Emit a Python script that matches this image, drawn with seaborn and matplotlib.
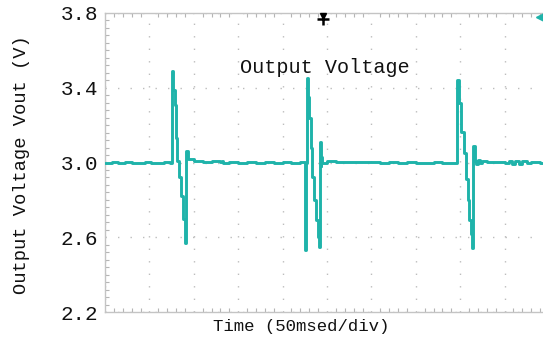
import matplotlib
matplotlib.use("Agg")
import matplotlib.pyplot as plt
import seaborn as sns
import pandas as pd
from matplotlib.ticker import AutoMinorLocator, MultipleLocator

# ---- data (time in ms, voltage in V) ----
time_ms = [
    0, 8, 15, 22, 30, 37, 45, 52, 60, 67, 73,
    75.8, 76.9, 78.5, 80.0, 81.4, 83.7, 85.2, 87.5, 89.7, 91.2, 93.8,
    100, 110, 120, 130, 131.7, 133, 140, 150, 160, 170, 180, 190, 200, 210, 220,
    225.2, 226.3, 227.8, 229.0, 230.1, 231.7, 233.4, 235.4, 238.0, 239.5, 240.7,
    241.8, 242.7, 243.6, 244.9,
    250, 260, 270, 280, 290, 300, 310, 320, 330, 340, 350, 360, 370, 380, 390,
    396.7, 399.0, 401.2, 404.3, 406.5, 408.8, 410.2, 411.8, 412.9, 414.1, 416.3,
    418, 420, 422, 425, 430, 440, 450, 455, 458, 462, 466, 470, 475, 480, 490, 500,
]
voltage_v = [
    3.000, 3.002, 2.999, 3.001, 3.000, 2.998, 3.001, 3.000, 2.999, 3.001, 3.000,
    3.49, 3.39, 3.31, 3.13, 3.01, 2.92, 2.82, 2.70, 2.57, 3.06, 3.02,
    3.006, 3.004, 3.006, 3.004, 3.010, 2.998, 3.002, 3.000, 3.001, 2.999, 3.001, 2.999, 3.001, 2.999, 3.001,
    2.53, 3.00, 3.45, 3.35, 3.24, 3.08, 2.92, 2.80, 2.69, 2.60, 2.55,
    3.11, 2.98, 3.03, 3.00,
    3.006, 3.004, 3.005, 3.004, 3.003, 3.001, 2.999, 3.001, 2.999, 3.001, 3.000, 2.999, 3.001, 3.000, 2.999,
    3.44, 3.32, 3.165, 3.05, 2.91, 2.80, 2.69, 2.62, 2.54, 3.09, 3.01,
    2.99, 3.015, 3.00, 3.008, 3.004, 3.005, 3.000, 3.008, 2.993, 3.008, 2.994, 3.006, 3.000, 3.002, 3.000, 3.001,
]
y_ticks = [2.2, 2.6, 3.0, 3.4, 3.8]
y_tick_labels = ["2.2", "2.6", "3.0", "3.4", "3.8"]
title_text = "Output Voltage"
x_label = "Time (50msed/div)"
y_label = "Output Voltage Vout (V)"

df = pd.DataFrame({"t": time_ms, "v": voltage_v})

sns.set_theme(style="white")
plt.rcParams["font.family"] = ["Liberation Mono", "DejaVu Sans"]

W, H = 543, 337
fig = plt.figure(figsize=(W / 100, H / 100), dpi=100)
fig.patch.set_facecolor("white")
ax = fig.add_axes([105 / W, (H - 312) / H, 444 / W, 299 / H])
ax.set_facecolor("white")

trace = "#1FB3AA"
sns.lineplot(data=df, x="t", y="v", ax=ax, color=trace, linewidth=2.1,
             drawstyle="steps-post", estimator=None, sort=False, zorder=3)

ax.set_xlim(0, 500)
ax.set_ylim(2.2, 3.8)

ax.xaxis.set_major_locator(MultipleLocator(50))
ax.yaxis.set_major_locator(MultipleLocator(0.2))
ax.xaxis.set_minor_locator(AutoMinorLocator(5))
ax.grid(True, which="major", color="#bdbdbd", linestyle=(0, (1, 8)), linewidth=1.0)

ax.set_xticklabels([])
ax.tick_params(axis="x", which="major", length=0, top=True, bottom=True)
ax.tick_params(axis="both", which="minor", direction="in", length=3, width=0.8,
               color="#b5b5b5", top=True, bottom=True, left=True)
ax.tick_params(axis="y", which="major", length=0, labelsize=15, pad=5, colors="#111111")
ax.set_yticks(y_ticks)
ax.set_yticklabels(y_tick_labels)
ax.yaxis.set_minor_locator(MultipleLocator(0.04))

for side in ["left", "bottom", "top"]:
    ax.spines[side].set_visible(True)
    ax.spines[side].set_color("#c4c4c4")
    ax.spines[side].set_linewidth(1.0)
ax.spines["right"].set_visible(False)

ax.set_xlabel(x_label, fontsize=12.5, color="#111111")
ax.xaxis.set_label_coords((301.5 - 105) / 444, -(327 - 312) / 299, transform=ax.transAxes)
ax.xaxis.label.set_va("center")
ax.set_ylabel(y_label, fontsize=13.5, color="#111111")
ax.yaxis.set_label_coords((22 - 105) / 444, (312 - 165) / 299, transform=ax.transAxes)
ax.yaxis.label.set_va("center")

ax.text(248, 3.511, title_text, ha="center", va="center", fontsize=14.5, color="#111111")

# scope markers (trigger position and level)
ax.plot([245.5], [3.785], marker="v", color="black", markersize=5, clip_on=False, zorder=5)
ax.plot([245.5], [3.77], marker="+", color="black", markersize=8, mew=1.8, clip_on=False, zorder=5)
ax.plot([490], [3.78], marker="<", color=trace, markersize=6, clip_on=False, zorder=5)

fig.savefig("out.png", dpi=100, facecolor="white")
